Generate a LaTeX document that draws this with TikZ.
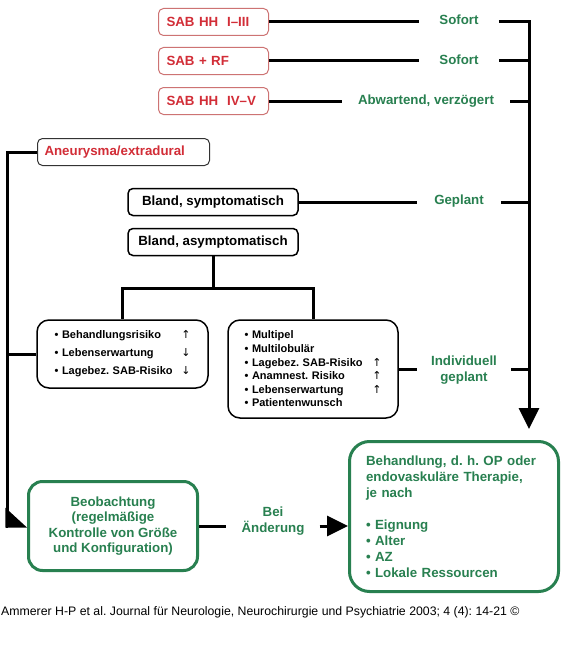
\documentclass[tikz,border=0pt]{standalone}
\usepackage{fontspec}
\setmainfont{Liberation Sans}
\newfontfamily\arrfont{DejaVu Sans}
\usetikzlibrary{positioning, calc, arrows.meta}
\definecolor{sabred}{RGB}{210,45,55}
\definecolor{sabframe}{RGB}{205,115,115}
\definecolor{plangreen}{RGB}{40,128,80}
\newcommand{\arrup}{{\arrfont\mdseries ↑}}
\newcommand{\arrdown}{{\arrfont\mdseries ↓}}
\frenchspacing

\begin{document}
\begin{tikzpicture}[x=1pt, y=-1pt, font=\bfseries\fontsize{13.3}{15.5}\selectfont,
	redbox/.style={draw=sabframe, line width=1pt, rounded corners=5pt, text=sabred,
		minimum height=27pt, text width=94pt, inner xsep=8pt, align=left, anchor=west},
	greybox/.style={draw, line width=1.5pt, rounded corners=5pt, minimum height=27pt,
		minimum width=170pt},
	listbox/.style={draw, line width=1.5pt, rounded corners=12pt, align=left},
	greenbox/.style={draw=plangreen, line width=3pt, text=plangreen},
	lbl/.style={text=plangreen, inner xsep=19pt, align=center},
	conn/.style={line width=3pt},
	bigtip/.style={-{Triangle[length=21pt, width=20pt]}}]

\path[use as bounding box, fill=white] (0,0) rectangle (568,661);

\coordinate (rx) at (529,0);
\coordinate (lx) at (7,0);

\node[redbox] (sab1) at (158,22) {SAB HH\ \ I–III};
\node[redbox] (sab2) at (158,61) {SAB + RF};
\node[redbox] (sab3) at (158,101) {SAB HH\ \ IV–V};
\node[redbox, draw=black!80, text width=158pt, inner xsep=7pt] (aneu) at (37,152) {Aneurysma/extradural};

\node[greybox] (bsym) at (213,202) {Bland, symptomatisch};
\node[greybox] (basym) at (213,242) {Bland, asymptomatisch};

\node[listbox, text width=136pt, inner xsep=17.5pt, minimum height=68pt,
	font=\bfseries\fontsize{11}{18}\selectfont] (risk) at (122.5,354)
	{• Behandlungsrisiko\hfill\arrup\\• Lebenserwartung\hfill\arrdown\\%
	• Lagebez. SAB-Risiko\hfill\arrdown};
\node[listbox, text width=137pt, inner xsep=16.5pt, minimum height=98pt,
	font=\bfseries\fontsize{11}{13.6}\selectfont] (pref) at (313,369)
	{• Multipel\\• Multilobulär\\• Lagebez. SAB-Risiko\hfill\arrup\\%
	• Anamnest. Risiko\hfill\arrup\\• Lebenserwartung\hfill\arrup\\• Patientenwunsch};

\node[greenbox, rounded corners=14pt, minimum width=169pt, minimum height=89pt,
	align=center, font=\bfseries\fontsize{13.3}{15.3}\selectfont] (beob) at (113,526)
	{Beobachtung\\(regelmäßige\\Kontrolle von Größe\\und Konfiguration)};
\node[greenbox, rounded corners=20pt, text width=176pt, inner xsep=16.5pt,
	minimum height=150pt, align=left, font=\bfseries\fontsize{13.3}{16}\selectfont] (behand) at (454,516.5)
	{Behandlung, d. h. OP oder\\endovaskuläre Therapie,\\je nach\\[16pt]%
	• Eignung\\• Alter\\• AZ\\• Lokale Ressourcen};

\node[lbl, inner xsep=20pt] (sof1) at (459,20) {Sofort};
\node[lbl, inner xsep=20pt] (sof2) at (459,60) {Sofort};
\node[lbl, inner xsep=16pt] (abw) at (426,101) {Abwartend, verzögert};
\node[lbl, inner xsep=17pt] (gepl) at (459,201) {Geplant};
\node[lbl, inner xsep=14pt] (indiv) at (464,370) {Individuell\\geplant};
\node[lbl, inner xsep=15pt] (bei) at (273,521) {Bei\\Änderung};

\node[anchor=west, inner sep=0pt, font=\mdseries\fontsize{12.3}{14}\selectfont] (src) at (1,612)
	{Ammerer H-P et al. Journal für Neurologie, Neurochirurgie und Psychiatrie 2003; 4 (4): 14-21 ©};

\draw[conn] (sab1.east) -- (sab1.east -| sof1.west);
\draw[conn, bigtip, shorten >=11pt] (sof1.east |- sab1.east) -| (rx |- behand.north);
\draw[conn] (sab2.east) -- (sab2.east -| sof2.west);
\draw[conn] (sof2.east |- sab2.east) -- (sab2.east -| rx);
\draw[conn] (sab3.east) -- (sab3.east -| abw.west);
\draw[conn] (abw.east |- sab3.east) -- (sab3.east -| rx);
\draw[conn] (bsym.east) -- (bsym.east -| gepl.west);
\draw[conn] (gepl.east |- bsym.east) -- (bsym.east -| rx);

\draw[conn] (basym.south) -- ++(0,32) coordinate (fork) -| (risk.north);
\draw[conn] (fork) -| (pref.north);
\draw[conn] (pref.east) -- (pref.east -| indiv.west);
\draw[conn] (indiv.east |- pref.east) -- (pref.east -| rx);

\draw[conn, -{Triangle[left, length=20pt, width=36pt]}] (aneu.west) -- (aneu.west -| lx) |- (beob.west);
\draw[conn] (risk.west) -- (risk.west -| lx);

\draw[conn] (beob.east) -- (beob.east -| bei.west);
\draw[conn, bigtip] (bei.east |- beob.east) -- (beob.east -| behand.west);
\end{tikzpicture}
\end{document}
